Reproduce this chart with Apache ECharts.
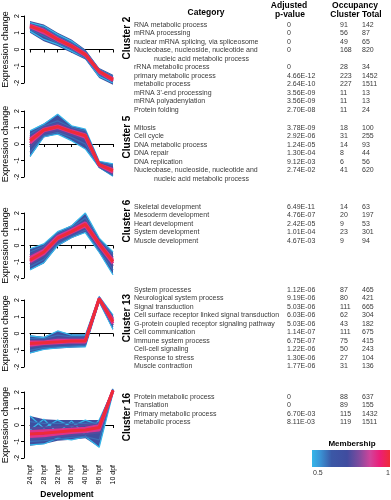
<!DOCTYPE html>
<html><head><meta charset="utf-8">
<script src="https://cdn.jsdelivr.net/npm/echarts@6/dist/echarts.min.js"></script>
<style>html,body{margin:0;padding:0;background:#fff}#c{width:391px;height:500px}</style>
</head><body><div id="c"></div><script>
// ---------------- DATA ----------------
const stages = ['24 hpf','28 hpf','32 hpf','36 hpf','40 hpf','96 hpf','10 dpf'];
const clusterNames = ['Cluster 2','Cluster 5','Cluster 6','Cluster 13','Cluster 16'];
const yTicks = [-2,-1,0,1,2];
const legendTicks = ['0.5','1'];

// Cluster 2 profiles
const c2Upper = [1.7, 1.5, 1.0, 0.6, 0.0, -1.1, -1.5];
const c2Lower = [1.0, 0.5, 0.2, -0.2, -0.6, -1.7, -2.1];
const c2Membership = [0.5, 0.5, 0.6, 0.6, 0.75, 0.75, 0.9, 0.9, 1.0];
const c2Lines = [
  [1.6, 1.4, 0.9, 0.5, -0.1, -1.2, -1.6],
  [1.1, 0.6, 0.3, -0.1, -0.5, -1.6, -2.0],
  [1.5, 1.3, 0.8, 0.4, -0.1, -1.2, -1.6],
  [1.2, 0.8, 0.4, 0.0, -0.5, -1.5, -1.9],
  [1.5, 1.2, 0.7, 0.3, -0.2, -1.3, -1.7],
  [1.3, 0.9, 0.5, 0.1, -0.4, -1.4, -1.9],
  [1.45, 1.15, 0.65, 0.25, -0.25, -1.3, -1.75],
  [1.35, 1.0, 0.55, 0.15, -0.35, -1.35, -1.85],
  [1.4, 1.1, 0.6, 0.2, -0.3, -1.3, -1.8]
];
// Cluster 5 profiles
const c5Upper = [0.8, 1.25, 1.8, 1.1, 0.9, -1.05, -1.2];
const c5Lower = [-0.8, 0.4, 0.6, 0.2, -0.3, -1.45, -1.95];
const c5Membership = [0.5, 0.5, 0.6, 0.6, 0.75, 0.75, 0.9, 0.9, 1.0];
const c5Lines = [
  [0.8, 1.2, 1.8, 1.1, 0.9, -1.05, -1.2],
  [-0.75, 0.45, 0.6, 0.2, -0.3, -1.4, -1.95],
  [0.6, 1.1, 1.4, 1.0, 0.8, -1.1, -1.3],
  [-0.5, 0.5, 0.7, 0.4, 0.0, -1.4, -1.9],
  [0.45, 1.0, 1.25, 0.9, 0.65, -1.2, -1.45],
  [-0.2, 0.65, 0.85, 0.55, 0.25, -1.35, -1.8],
  [0.3, 0.9, 1.1, 0.8, 0.55, -1.25, -1.55],
  [0.05, 0.8, 1.0, 0.7, 0.4, -1.3, -1.7],
  [0.2, 0.85, 1.05, 0.75, 0.5, -1.25, -1.62]
];
// Cluster 6 profiles
const c6Upper = [-0.2, 0.1, 0.85, 1.25, 2.0, 0.45, -0.4];
const c6Lower = [-1.5, -1.1, -0.05, 0.45, 0.8, -0.45, -1.8];
const c6Membership = [0.5, 0.5, 0.6, 0.6, 0.75, 0.75, 0.9, 0.9, 1.0];
const c6Lines = [
  [-0.2, 0.1, 0.85, 1.2, 2.0, 0.45, -0.4],
  [-1.5, -1.05, 0.0, 0.5, 0.8, -0.4, -1.8],
  [-0.4, -0.05, 0.75, 1.1, 1.7, 0.35, -0.55],
  [-1.3, -0.85, 0.1, 0.55, 0.95, -0.3, -1.5],
  [-0.6, -0.15, 0.65, 1.0, 1.5, 0.25, -0.75],
  [-1.15, -0.65, 0.25, 0.7, 1.1, -0.1, -1.25],
  [-0.75, -0.3, 0.55, 0.95, 1.4, 0.15, -0.9],
  [-1.0, -0.5, 0.4, 0.8, 1.2, 0.0, -1.1],
  [-0.9, -0.4, 0.45, 0.85, 1.3, 0.1, -1.0]
];
// Cluster 13 profiles
const c13Upper = [-0.1, -0.2, 0.15, -0.05, -0.05, 2.25, 1.1];
const c13Lower = [-1.2, -0.95, -0.9, -0.85, -0.8, 1.85, 0.2];
const c13Membership = [0.5, 0.5, 0.6, 0.6, 0.75, 0.75, 0.9, 0.9, 1.0];
const c13Lines = [
  [-0.15, -0.25, 0.15, -0.1, -0.1, 2.2, 1.1],
  [-1.15, -0.95, -0.85, -0.8, -0.8, 1.9, 0.25],
  [-0.3, -0.3, -0.1, -0.2, -0.2, 2.15, 1.0],
  [-1.0, -0.85, -0.8, -0.75, -0.7, 1.95, 0.4],
  [-0.45, -0.4, -0.3, -0.3, -0.3, 2.1, 0.9],
  [-0.8, -0.7, -0.65, -0.6, -0.6, 2.0, 0.5],
  [-0.5, -0.5, -0.4, -0.4, -0.4, 2.1, 0.8],
  [-0.7, -0.6, -0.55, -0.5, -0.5, 2.05, 0.6],
  [-0.6, -0.55, -0.5, -0.45, -0.45, 2.07, 0.7]
];
// Cluster 16 profiles
const c16Upper = [0.55, 0.35, 0.3, 0.3, 0.3, 0.3, 2.2];
const c16Lower = [-1.25, -1.15, -0.95, -0.9, -0.8, -1.35, 1.9];
const c16Membership = [0.5, 0.5, 0.5, 0.6, 0.6, 0.75, 0.75, 0.9, 0.9, 1.0];
const c16Lines = [
  [0.55, -0.2, 0.3, -0.1, 0.3, 0.0, 2.2],
  [-1.2, -1.15, -0.8, -0.9, -0.7, -1.35, 1.95],
  [-0.3, 0.35, -0.5, 0.25, -0.6, 0.3, 2.1],
  [0.2, 0.1, 0.1, 0.1, 0.1, 0.15, 2.15],
  [-1.0, -0.95, -0.85, -0.75, -0.7, -0.9, 2.0],
  [-0.2, -0.15, -0.1, -0.05, 0.0, 0.05, 2.15],
  [-0.85, -0.8, -0.7, -0.6, -0.55, -0.45, 2.05],
  [-0.4, -0.35, -0.3, -0.25, -0.2, -0.05, 2.1],
  [-0.7, -0.65, -0.55, -0.45, -0.4, -0.3, 2.08],
  [-0.55, -0.5, -0.42, -0.35, -0.3, -0.15, 2.1]
];

// Enrichment table
const c2Categories = ['RNA metabolic process','mRNA processing','nuclear mRNA splicing, via spliceosome','Nucleobase, nucleoside, nucleotide and\nnucleic acid metabolic process','rRNA metabolic process','primary metabolic process','metabolic process',"mRNA 3'-end processing",'mRNA polyadenylation','Protein folding'];
const c2PValues = ['0','0','0','0','0','4.66E-12','2.64E-10','3.56E-09','3.56E-09','2.70E-08'];
const c2InCluster = ['91','56','49','168','28','223','227','11','11','11'];
const c2Total = ['142','87','65','820','34','1452','1511','13','13','24'];

const c5Categories = ['Mitosis','Cell cycle','DNA metabolic process','DNA repair','DNA replication','Nucleobase, nucleoside, nucleotide and\nnucleic acid metabolic process'];
const c5PValues = ['3.78E-09','2.92E-06','1.24E-05','1.30E-04','9.12E-03','2.74E-02'];
const c5InCluster = ['18','31','14','8','6','41'];
const c5Total = ['100','255','93','44','56','620'];

const c6Categories = ['Skeletal development','Mesoderm development','Heart development','System development','Muscle development'];
const c6PValues = ['6.49E-11','4.76E-07','2.42E-05','1.01E-04','4.67E-03'];
const c6InCluster = ['14','20','9','23','9'];
const c6Total = ['63','197','53','301','94'];

const c13Categories = ['System processes','Neurological system process','Signal transduction','Cell surface receptor linked signal transduction','G-protein coupled receptor signaling pathway','Cell communication','Immune system process','Cell-cell signaling','Response to stress','Muscle contraction'];
const c13PValues = ['1.12E-06','9.19E-06','5.03E-06','6.03E-06','5.03E-06','1.14E-07','6.75E-07','1.22E-06','1.30E-06','1.77E-06'];
const c13InCluster = ['87','80','111','62','43','111','75','50','27','31'];
const c13Total = ['465','421','665','304','182','675','415','243','104','136'];

const c16Categories = ['Protein metabolic process','Translation','Primary metabolic process','metabolic process'];
const c16PValues = ['0','0','6.70E-03','8.11E-03'];
const c16InCluster = ['88','89','115','119'];
const c16Total = ['637','155','1432','1511'];

// ---------------- BUILD ----------------
const profiles = [
  {upper:c2Upper, lower:c2Lower, lines:c2Lines, mem:c2Membership},
  {upper:c5Upper, lower:c5Lower, lines:c5Lines, mem:c5Membership},
  {upper:c6Upper, lower:c6Lower, lines:c6Lines, mem:c6Membership},
  {upper:c13Upper, lower:c13Lower, lines:c13Lines, mem:c13Membership},
  {upper:c16Upper, lower:c16Lower, lines:c16Lines, mem:c16Membership}
];
const tables = [
  [c2Categories,c2PValues,c2InCluster,c2Total],
  [c5Categories,c5PValues,c5InCluster,c5Total],
  [c6Categories,c6PValues,c6InCluster,c6Total],
  [c13Categories,c13PValues,c13InCluster,c13Total],
  [c16Categories,c16PValues,c16InCluster,c16Total]
];

// layout (styling)
const FONT = 'Liberation Sans, Arial, Helvetica, sans-serif';
const gridTops = [16, 111, 213, 300, 392];
const gridHeights = [67, 66, 65, 67, 66];
const rowStarts = [25, 128, 207, 290, 397];
const labelCenters = [38, 137, 221, 318, 417];
const ROW = 8.5;
const TFONT = '7px ' + FONT;
const TCOL = '#3a3a3a';

const gradStops = [
  [0.00,[53,182,233]],[0.10,[58,150,215]],[0.25,[59,88,166]],[0.45,[64,76,159]],
  [0.60,[125,75,158]],[0.75,[210,67,154]],[0.87,[236,30,120]],[1.00,[238,43,56]]
];
function memColor(m){
  const t = Math.max(0, Math.min(1, (m-0.5)/0.5));
  for (let i=1;i<gradStops.length;i++){
    if (t <= gradStops[i][0]){
      const a = gradStops[i-1], b = gradStops[i];
      const f = (t-a[0])/(b[0]-a[0]);
      const c = a[1].map((v,j)=>Math.round(v+(b[1][j]-v)*f));
      return 'rgb('+c.join(',')+')';
    }
  }
  return 'rgb(238,43,56)';
}

const grids=[], xAxes=[], yAxes=[], series=[], graphics=[];
profiles.forEach((p,k)=>{
  grids.push({left:30, width:83, top:gridTops[k], height:gridHeights[k]});
  const last = k===profiles.length-1;
  xAxes.push({type:'category', gridIndex:k, data:stages, boundaryGap:false, offset:4,
    axisLine:{show:true, lineStyle:{color:'#000', width:1}},
    axisTick:{show:true, length:3, lineStyle:{color:'#000'}},
    axisLabel:{show:last, rotate:90, fontSize:7, margin:3, color:'#000', fontFamily:FONT},
    splitLine:{show:false}});
  yAxes.push({type:'value', gridIndex:k, min:-2, max:2, interval:1, offset:6,
    axisLine:{show:true, lineStyle:{color:'#000', width:1}},
    axisTick:{show:true, length:3, lineStyle:{color:'#000'}},
    axisLabel:{rotate:90, fontSize:7, margin:3, color:'#000', fontFamily:FONT},
    splitLine:{show:false}});
  series.push({type:'line', xAxisIndex:k, yAxisIndex:k, data:p.lower, stack:'band'+k, stackStrategy:'all',
    symbol:'none', lineStyle:{opacity:0}, silent:true, clip:false, z:1});
  series.push({type:'line', xAxisIndex:k, yAxisIndex:k, data:p.upper.map((v,i)=>+(v-p.lower[i]).toFixed(3)),
    stack:'band'+k, stackStrategy:'all', symbol:'none', lineStyle:{opacity:0},
    areaStyle:{color:'#3e4f9f', opacity:1}, silent:true, clip:false, z:1});
  const order = p.mem.map((m,i)=>i).sort((a,b)=>p.mem[a]-p.mem[b]);
  order.forEach(i=>{
    const m = p.mem[i];
    series.push({type:'line', xAxisIndex:k, yAxisIndex:k, data:p.lines[i], symbol:'none', clip:false,
      silent:true, z:2, lineStyle:{color:memColor(m), width: m>=0.9?3:(m>=0.75?2:1.3)}});
  });
  graphics.push({type:'text', x:6, y:gridTops[k]+gridHeights[k]/2, rotation:Math.PI/2,
    style:{text:'Expression change', font:'9px '+FONT, fill:'#000', align:'center', verticalAlign:'middle'}});
  graphics.push({type:'text', x:127, y:labelCenters[k], rotation:Math.PI/2,
    style:{text:clusterNames[k], font:'bold 10px '+FONT, fill:'#000', align:'center', verticalAlign:'middle'}});
  const [cats, pv, inc, tot] = tables[k];
  let y = rowStarts[k];
  const txt = (t,x,yy)=>({type:'text', x:x, y:yy, style:{text:t, font:TFONT, fill:TCOL, align:'left', verticalAlign:'middle'}});
  cats.forEach((c,i)=>{
    const parts = c.split('\n');
    graphics.push(txt(parts[0],134,y));
    graphics.push(txt(pv[i],287,y));
    graphics.push(txt(inc[i],340,y));
    graphics.push(txt(tot[i],362,y));
    y += ROW;
    for (let j=1;j<parts.length;j++){
      graphics.push(txt(parts[j],154,y));
      y += ROW;
    }
  });
});

const hdr = (t,x,y)=>({type:'text', x:x, y:y, style:{text:t, font:'bold 8.5px '+FONT, fill:'#000', align:'center', verticalAlign:'middle'}});
graphics.push(hdr('Category',206,13));
graphics.push(hdr('Adjusted',289,6));
graphics.push(hdr('p-value',290,15));
graphics.push(hdr('Occupancy',355,6));
graphics.push(hdr('Cluster Total',356,15));
graphics.push({type:'text', x:67, y:495, style:{text:'Development', font:'bold 8.5px '+FONT, fill:'#000', align:'center', verticalAlign:'middle'}});
graphics.push({type:'text', x:352, y:444, style:{text:'Membership', font:'bold 8px '+FONT, fill:'#000', align:'center', verticalAlign:'middle'}});
graphics.push({type:'rect', shape:{x:312, y:450, width:78, height:17},
  style:{fill:new echarts.graphic.LinearGradient(0,0,1,0, gradStops.map(s=>({offset:s[0], color:'rgb('+s[1].join(',')+')'})))}});
graphics.push({type:'text', x:313, y:473, style:{text:legendTicks[0], font:'7px '+FONT, fill:'#333', align:'left', verticalAlign:'middle'}});
graphics.push({type:'text', x:390, y:473, style:{text:legendTicks[1], font:'7px '+FONT, fill:'#333', align:'right', verticalAlign:'middle'}});

const chart = echarts.init(document.getElementById('c'), null, {renderer:'canvas'});
chart.setOption({animation:false, backgroundColor:'#fff', grid:grids, xAxis:xAxes, yAxis:yAxes, series:series, graphic:graphics});
</script></body></html>
